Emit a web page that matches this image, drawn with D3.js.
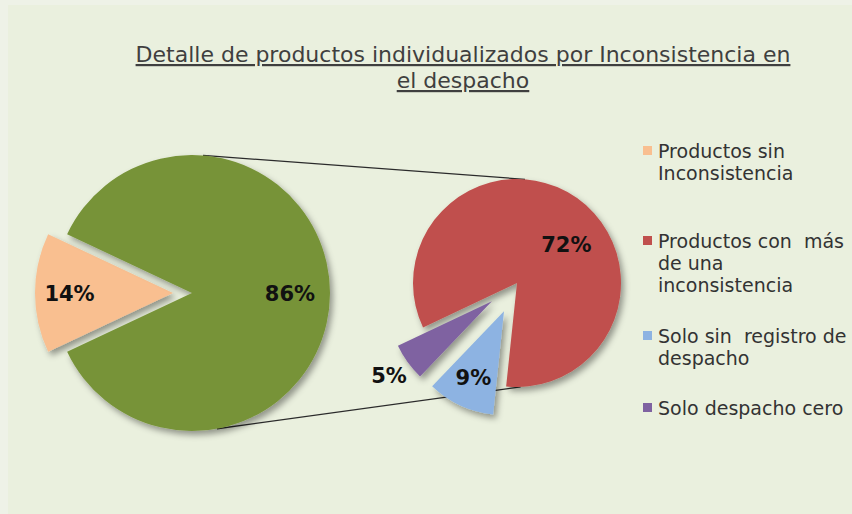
<!DOCTYPE html>
<html>
<head>
<meta charset="utf-8">
<script src="https://cdn.jsdelivr.net/npm/d3@7"></script>
<style>
  html, body { margin: 0; padding: 0; background: #eef2e7; }
  svg { display: block; }
</style>
</head>
<body>
<svg id="chart" width="852" height="514"></svg>
<script>
// ---------------- DATA ----------------
const titleLines = ["Detalle de productos individualizados por Inconsistencia en", "el despacho"];

const mainCategories = ["Productos sin Inconsistencia", "Productos con inconsistencia"];
const mainValues = [14, 86];
const mainLabels = ["14%", "86%"];

const subCategories = ["Solo sin registro de despacho", "Solo despacho cero", "Productos con  más de una inconsistencia"];
const subValues = [9, 5, 72];
const subLabels = ["9%", "5%", "72%"];

const legendCategories = ["Productos sin Inconsistencia", "Productos con  más de una inconsistencia", "Solo sin registro de despacho", "Solo despacho cero"];
const legendLines = [
  ["Productos sin", "Inconsistencia"],
  ["Productos con  más", "de una", "inconsistencia"],
  ["Solo sin  registro de", "despacho"],
  ["Solo despacho cero"]
];

// ---------------- STYLE ----------------
const color = d3.scaleOrdinal()
  .domain(["Productos sin Inconsistencia", "Productos con inconsistencia", "Productos con  más de una inconsistencia", "Solo sin registro de despacho", "Solo despacho cero"])
  .range(["#f9bf90", "#779338", "#c0504d", "#8db3e2", "#7f62a1"]);

const deg = Math.PI / 180;
const svg = d3.select("#chart");

// background
svg.append("rect").attr("x", 0).attr("y", 0).attr("width", 852).attr("height", 514).attr("fill", "#eef2e7");
svg.append("rect").attr("x", 8).attr("y", 5).attr("width", 844).attr("height", 509).attr("fill", "#eaf0de");

const defs = svg.append("defs");
const f = defs.append("filter").attr("id", "shadow").attr("x", "-20%").attr("y", "-20%").attr("width", "150%").attr("height", "150%");
f.append("feDropShadow").attr("dx", 3).attr("dy", 4).attr("stdDeviation", 3)
  .attr("flood-color", "#000").attr("flood-opacity", 0.38);

// ---------------- TITLE ----------------
const title = svg.append("g");
titleLines.forEach((t, i) => {
  title.append("text")
    .attr("x", 463).attr("y", 62 + i * 26)
    .attr("text-anchor", "middle")
    .attr("font-family", "'DejaVu Sans', Verdana, sans-serif")
    .attr("font-size", 22)
    .attr("fill", "#3f3f3f")
    .attr("text-decoration", "underline")
    .text(t);
});

// ---------------- GEOMETRY ----------------
const main = { cx: 192, cy: 293, r: 138, explode: 19 };
const sub  = { cx: 517, cy: 283, r: 104, explode: 31 };

function pt(c, a, r) { return [c.cx + r * Math.sin(a), c.cy - r * Math.cos(a)]; }

// connector lines (behind pies)
const conn = [
  [pt(main, 4.6 * deg, main.r), pt(sub, 4.4 * deg, sub.r)],
  [pt(main, 169.6 * deg, main.r), pt(sub, 178 * deg, sub.r)]
];
svg.append("g").selectAll("line").data(conn).join("line")
  .attr("x1", d => d[0][0]).attr("y1", d => d[0][1])
  .attr("x2", d => d[1][0]).attr("y2", d => d[1][1])
  .attr("stroke", "#2b2b2b").attr("stroke-width", 1.3);

// ---------------- MAIN PIE ----------------
const mainSpan = mainValues[0] / d3.sum(mainValues) * 2 * Math.PI;
const mainPie = d3.pie().sort(null).value(d => d)
  .startAngle(270 * deg - mainSpan / 2).endAngle(270 * deg - mainSpan / 2 + 2 * Math.PI);
const mainArcs = mainPie(mainValues);
const mainArc = d3.arc().innerRadius(0).outerRadius(main.r);
const mainExplode = [main.explode, 0];

const gMain = svg.append("g").attr("transform", `translate(${main.cx},${main.cy})`);
gMain.selectAll("path").data(mainArcs).join("path")
  .attr("d", mainArc)
  .attr("fill", (d, i) => color(mainCategories[i]))
  .attr("filter", "url(#shadow)")
  .attr("transform", (d, i) => {
    const a = (d.startAngle + d.endAngle) / 2;
    return `translate(${mainExplode[i] * Math.sin(a)},${-mainExplode[i] * Math.cos(a)})`;
  });

const mainLabelR = [0.75, 0.71];
gMain.selectAll("text").data(mainArcs).join("text")
  .attr("transform", (d, i) => {
    const a = (d.startAngle + d.endAngle) / 2;
    const rr = mainExplode[i] + mainLabelR[i] * main.r;
    return `translate(${rr * Math.sin(a)},${-rr * Math.cos(a)})`;
  })
  .attr("text-anchor", "middle").attr("dy", "0.36em")
  .attr("font-family", "'DejaVu Sans', Verdana, sans-serif")
  .attr("font-weight", "bold").attr("font-size", 21).attr("fill", "#111")
  .text((d, i) => mainLabels[i]);

// ---------------- SUB PIE ----------------
const subPie = d3.pie().sort(null).value(d => d)
  .startAngle(186 * deg).endAngle(186 * deg + 2 * Math.PI);
const subArcs = subPie(subValues);
const subArc = d3.arc().innerRadius(0).outerRadius(sub.r);
const subExplode = [sub.explode, sub.explode, 0];

const gSub = svg.append("g").attr("transform", `translate(${sub.cx},${sub.cy})`);
// draw red first, then the exploded slices on top
const order = [2, 0, 1];
gSub.selectAll("path").data(order).join("path")
  .attr("d", i => subArc(subArcs[i]))
  .attr("fill", i => color(subCategories[i]))
  .attr("filter", "url(#shadow)")
  .attr("transform", i => {
    const d = subArcs[i];
    const a = (d.startAngle + d.endAngle) / 2;
    return `translate(${subExplode[i] * Math.sin(a)},${-subExplode[i] * Math.cos(a)})`;
  });

const subLabelR = [0.70, 1.22, 0.6];
const subLabelRot = [0, 0, 17 * deg];
gSub.selectAll("text").data(subArcs).join("text")
  .attr("transform", (d, i) => {
    const a0 = (d.startAngle + d.endAngle) / 2;
    const a = a0 + subLabelRot[i];
    const ex = subExplode[i];
    const rr = subLabelR[i] * sub.r;
    return `translate(${ex * Math.sin(a0) + rr * Math.sin(a)},${-ex * Math.cos(a0) - rr * Math.cos(a)})`;
  })
  .attr("text-anchor", "middle").attr("dy", "0.36em")
  .attr("font-family", "'DejaVu Sans', Verdana, sans-serif")
  .attr("font-weight", "bold").attr("font-size", 21).attr("fill", "#111")
  .text((d, i) => subLabels[i]);

// ---------------- LEGEND ----------------
const legendY = [158, 248, 343, 415];
const lg = svg.append("g");
legendCategories.forEach((c, k) => {
  const g = lg.append("g").attr("transform", `translate(643,${legendY[k]})`);
  g.append("rect").attr("x", 0).attr("y", -12).attr("width", 9).attr("height", 9).attr("fill", color(c));
  const t = g.append("text")
    .attr("x", 15).attr("y", 0)
    .attr("font-family", "'DejaVu Sans', Verdana, sans-serif")
    .attr("font-size", 19).attr("fill", "#333")
    .attr("style", "white-space: pre");
  legendLines[k].forEach((line, j) => {
    t.append("tspan").attr("x", 15).attr("y", j * 22).text(line);
  });
});
</script>
</body>
</html>
